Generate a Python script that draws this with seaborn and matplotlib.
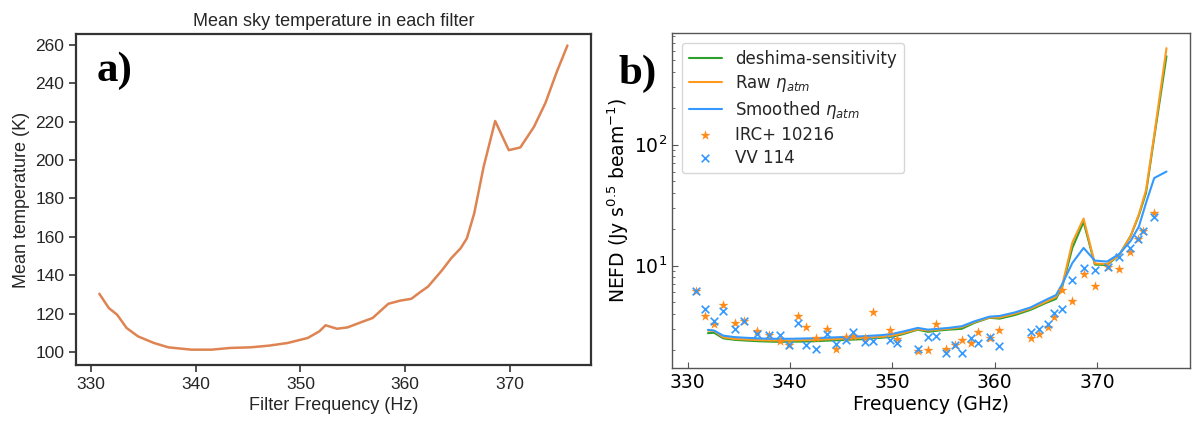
import numpy as np
import pandas as pd
import matplotlib
matplotlib.use("Agg")
import matplotlib.pyplot as plt
import seaborn as sns

# ---------------- data: panel a ----------------
filter_freq = [330.8, 331.7, 332.5, 333.4, 334.5, 336.0, 337.4, 339.6, 341.5, 343.3,
               345.2, 347.0, 348.8, 350.7, 351.8, 352.4, 353.5, 354.5, 356.0, 356.9,
               358.4, 359.5, 360.6, 361.3, 362.2, 363.5, 364.4, 365.3, 365.9, 366.6,
               367.5, 368.6, 369.9, 371.0, 372.3, 373.4, 374.5, 375.5]
mean_temp = [130.3, 122.9, 119.4, 112.5, 108.1, 104.7, 102.4, 101.2, 101.2, 102.1,
             102.4, 103.3, 104.7, 107.3, 110.7, 113.9, 112.1, 112.8, 115.9, 117.7,
             125.1, 126.7, 127.7, 130.6, 134.1, 142.4, 148.8, 154.0, 159.2, 172.2,
             196.5, 220.3, 205.1, 206.5, 217.2, 229.7, 246.1, 259.6]

# ---------------- data: panel b lines ----------------
line_freq = [332.0, 332.6, 333.5, 334.6, 335.6, 336.8, 338.0, 339.0, 340.0, 341.0,
             342.0, 343.0, 344.0, 345.0, 346.0, 347.0, 348.0, 349.0, 350.0, 351.0,
             352.5, 353.5, 354.5, 355.5, 356.8, 358.0, 359.5, 360.5, 362.0, 363.5,
             365.0, 366.0, 366.6, 367.6, 368.7, 369.8, 371.0, 372.2, 373.3, 374.1,
             374.8, 375.6, 376.8]
nefd_deshima = [2.76, 2.78, 2.50, 2.43, 2.40, 2.37, 2.35, 2.34, 2.35, 2.35,
                2.36, 2.38, 2.40, 2.42, 2.44, 2.46, 2.50, 2.53, 2.58, 2.70,
                2.95, 2.83, 2.90, 2.95, 3.00, 3.35, 3.70, 3.64, 3.90, 4.30,
                4.90, 5.30, 6.60, 14.0, 23.0, 10.2, 10.1, 12.3, 17.6, 26.0,
                40.0, 115.0, 540.0]
nefd_raw = [2.90, 2.88, 2.55, 2.47, 2.45, 2.42, 2.40, 2.40, 2.40, 2.41,
            2.42, 2.44, 2.46, 2.48, 2.50, 2.52, 2.55, 2.58, 2.63, 2.75,
            2.98, 2.90, 2.95, 3.00, 3.10, 3.40, 3.72, 3.72, 4.00, 4.40,
            5.00, 5.50, 6.80, 15.5, 24.5, 10.4, 10.3, 12.3, 17.6, 26.5,
            42.0, 120.0, 630.0]
nefd_smooth = [2.94, 2.90, 2.63, 2.56, 2.53, 2.50, 2.48, 2.48, 2.48, 2.49,
               2.50, 2.52, 2.54, 2.56, 2.58, 2.60, 2.63, 2.66, 2.72, 2.84,
               3.05, 2.95, 3.00, 3.05, 3.15, 3.45, 3.78, 3.83, 4.10, 4.50,
               5.20, 5.70, 7.00, 10.5, 14.0, 11.0, 10.8, 12.5, 16.0, 21.0,
               33.0, 53.0, 60.0]

# ---------------- data: panel b observations ----------------
obs_freq = [330.8, 331.7, 332.6, 333.5, 334.6, 335.5, 336.8, 338.0, 339.0, 339.9,
            340.8, 341.6, 342.6, 343.6, 344.5, 345.5, 346.2, 347.3, 348.1, 349.8,
            350.5, 352.5, 353.5, 354.3, 355.3, 356.1, 356.8, 357.7, 358.4, 359.6,
            360.4, 363.6, 364.3, 365.2, 365.8, 366.6, 367.6, 368.7, 369.8, 371.1,
            372.2, 373.2, 374.0, 374.5, 375.6]
nefd_irc = [6.17, 3.81, 3.30, 4.68, 3.36, 3.51, 2.89, 2.68, 2.39, 2.22,
            3.81, 3.09, 2.51, 2.98, 2.06, 2.58, 2.63, 2.54, 4.10, 2.92,
            2.47, 1.95, 2.02, 3.30, 2.04, 2.22, 2.44, 2.29, 2.83, 2.50,
            2.94, 2.51, 2.71, 3.08, 3.73, 6.25, 5.10, 8.44, 6.73, 9.70,
            9.30, 13.0, 16.5, 19.5, 27.0]
nefd_vv = [6.17, 4.40, 3.51, 4.24, 3.00, 3.51, 2.73, 2.68, 2.68, 2.22,
           3.36, 2.20, 2.04, 2.73, 2.24, 2.44, 2.83, 2.32, 2.39, 2.44,
           2.29, 2.05, 2.56, 2.63, 1.90, 2.22, 1.90, 2.54, 2.29, 2.55,
           2.15, 2.80, 3.00, 3.27, 4.07, 4.34, 7.54, 9.57, 9.20, 9.70,
           11.7, 13.9, 16.5, 19.5, 25.3]

sns.set_theme(style="ticks")

fig = plt.figure(figsize=(11.96, 4.22), dpi=100)

# ================= panel a =================
ax1 = fig.add_axes([0.0635, 0.135, 0.4305, 0.784])
dfa = pd.DataFrame({"f": filter_freq, "t": mean_temp})
sns.lineplot(data=dfa, x="f", y="t", ax=ax1, color="#dd8452", linewidth=1.8)
ax1.set_ylim(93.2, 265.5)
ax1.set_yticks([100, 120, 140, 160, 180, 200, 220, 240, 260])
ax1.set_xticks([330, 340, 350, 360, 370])
fa = ["Liberation Sans", "DejaVu Sans"]
ax1.set_title("Mean sky temperature in each filter", fontsize=13, family=fa,
              color="#262626", pad=6)
ax1.set_xlabel("Filter Frequency (Hz)", fontsize=13, family=fa, color="#262626")
ax1.set_ylabel("Mean temperature (K)", fontsize=13, family=fa, color="#262626")
for lab in ax1.get_xticklabels() + ax1.get_yticklabels():
    lab.set_family(fa)
    lab.set_fontsize(12.5)
    lab.set_color("#262626")
for sp in ax1.spines.values():
    sp.set_visible(True)
    sp.set_color("#333333")
    sp.set_linewidth(1.6)
ax1.tick_params(direction="out", length=5, width=1.2, color="#333333")
ax1.text(0.04, 0.889, "a)", transform=ax1.transAxes, fontsize=31,
         fontweight="bold", family=["Liberation Serif", "DejaVu Serif"],
         va="center", ha="left", color="black")

# ================= panel b =================
ax2 = fig.add_axes([0.562, 0.128, 0.433, 0.794])
dfl = pd.DataFrame({
    "f": line_freq * 3,
    "v": nefd_deshima + nefd_raw + nefd_smooth,
    "s": (["deshima-sensitivity"] * len(line_freq)
          + [r"Raw $\eta_{atm}$"] * len(line_freq)
          + [r"Smoothed $\eta_{atm}$"] * len(line_freq)),
})
palette = {"deshima-sensitivity": "#2ca02c",
           r"Raw $\eta_{atm}$": "#ff9a1f",
           r"Smoothed $\eta_{atm}$": "#3399ff"}
for name in ["deshima-sensitivity", r"Raw $\eta_{atm}$", r"Smoothed $\eta_{atm}$"]:
    sub = dfl[dfl["s"] == name]
    sns.lineplot(data=sub, x="f", y="v", ax=ax2, color=palette[name],
                 linewidth=1.5, label=name)
sns.scatterplot(x=obs_freq, y=nefd_irc, ax=ax2, marker="*", s=58,
                color="#ff8c1a", linewidth=0, label="IRC+ 10216", zorder=3)
sns.scatterplot(x=obs_freq, y=nefd_vv, ax=ax2, marker="x", s=30,
                color="#3399ff", linewidth=1.2, label="VV 114", zorder=3)
ax2.set_yscale("log")
ax2.set_xticks([330, 340, 350, 360, 370])
ax2.set_xlabel("Frequency (GHz)", fontsize=13.5, family="DejaVu Sans",
               color="black", labelpad=2)
ax2.set_ylabel(r"NEFD (Jy s$^{0.5}$ beam$^{-1}$)", fontsize=13.5,
               family="DejaVu Sans", color="black", labelpad=2)
for lab in ax2.get_xticklabels() + ax2.get_yticklabels():
    lab.set_family("DejaVu Sans")
for sp in ax2.spines.values():
    sp.set_visible(True)
    sp.set_color("#555555")
    sp.set_linewidth(1.0)
ax2.tick_params(axis="both", which="major", direction="in", length=4, width=0.8,
                labelsize=13.5, color="#555555", labelcolor="black")
ax2.tick_params(axis="y", which="minor", direction="in", length=2.5, width=0.6,
                color="#555555")
leg = ax2.legend(loc="upper left", fontsize=12, frameon=True, fancybox=True,
                 framealpha=0.8, borderpad=0.4, labelspacing=0.3,
                 handlelength=2.0, handletextpad=0.8, borderaxespad=0.6)
leg.get_frame().set_edgecolor("#cccccc")
for t in leg.get_texts():
    t.set_family("DejaVu Sans")
fig.text(638 / 1196, 1 - 74 / 422, "b)", fontsize=31, fontweight="bold",
         family=["Liberation Serif", "DejaVu Serif"], ha="center", va="center",
         color="black")

fig.savefig("out.png", dpi=100)
